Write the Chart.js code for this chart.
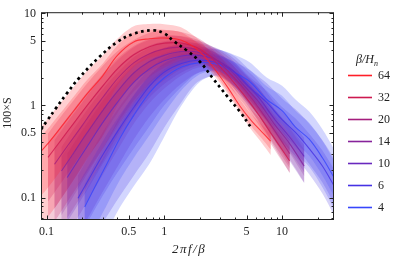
<!DOCTYPE html>
<html>
<head>
<meta charset="utf-8">
<script src="https://cdn.jsdelivr.net/npm/chart.js@4.4.1/dist/chart.umd.min.js"></script>
<style>
  html, body { margin: 0; padding: 0; background: #fff; }
</style>
</head>
<body>
<canvas id="chart" width="397" height="265"></canvas>
<script>
// axis ranges and ticks
const xMin = 0.0898, xMax = 27.6;
const yMin = 0.057, yMax = 10.3;
const xMajor = [0.1, 0.5, 1, 5, 10];
const xMinor = [0.2, 0.3, 0.4, 0.6, 0.7, 0.8, 0.9, 2, 3, 4, 6, 7, 8, 9, 20];
const yMajor = [0.1, 0.5, 1, 5, 10];
const yMinor = [0.06, 0.07, 0.08, 0.09, 0.2, 0.3, 0.4, 0.6, 0.7, 0.8, 0.9, 2, 3, 4, 6, 7, 8, 9];

const labels = ["64", "32", "20", "14", "10", "6", "4"];

// beta/H = 64
const x64 = [0.08, 0.1, 0.13, 0.17, 0.22, 0.3, 0.4, 0.55, 0.75, 1.0, 1.4, 2.0, 2.6, 3.4, 4.4, 5.5, 6.7, 8.0];
const y64 = [0.27, 0.37, 0.56, 0.87, 1.33, 2.1, 3.5, 4.9, 5.3, 5.4, 5.1, 3.85, 2.6, 1.62, 0.98, 0.68, 0.52, 0.41];
const u64 = [0.27, 0.27, 0.27, 0.26, 0.25, 0.22, 0.18, 0.17, 0.16, 0.15, 0.14, 0.12, 0.12, 0.12, 0.12, 0.12, 0.13, 0.14];
const d64 = [0.8, 0.8, 0.78, 0.75, 0.7, 0.65, 0.55, 0.45, 0.35, 0.3, 0.2, 0.1, 0.08, 0.07, 0.07, 0.1, 0.12, 0.15];
// beta/H = 32
const x32 = [0.103, 0.13, 0.17, 0.22, 0.3, 0.4, 0.55, 0.75, 1.0, 1.4, 2.0, 2.7, 3.6, 4.8, 6.3, 8.5, 11.6];
const y32 = [0.273, 0.405, 0.64, 0.99, 1.62, 2.5, 3.55, 4.35, 4.75, 4.75, 4.1, 3.0, 2.0, 1.28, 0.8, 0.45, 0.25];
const u32 = [0.26, 0.26, 0.25, 0.24, 0.22, 0.19, 0.16, 0.15, 0.14, 0.12, 0.11, 0.11, 0.11, 0.12, 0.12, 0.13, 0.14];
const d32 = [0.8, 0.78, 0.75, 0.72, 0.68, 0.6, 0.5, 0.4, 0.32, 0.22, 0.13, 0.1, 0.1, 0.1, 0.11, 0.12, 0.13];
// beta/H = 20
const x20 = [0.117, 0.15, 0.2, 0.25, 0.3, 0.4, 0.55, 0.75, 1.0, 1.4, 2.0, 2.7, 3.6, 4.8, 6.3, 8.5, 11.6];
const y20 = [0.23, 0.36, 0.6, 0.9, 1.22, 1.95, 2.9, 3.65, 4.1, 4.3, 3.95, 3.2, 2.25, 1.5, 0.95, 0.55, 0.3];
const u20 = [0.26, 0.26, 0.25, 0.24, 0.23, 0.2, 0.17, 0.15, 0.14, 0.12, 0.11, 0.11, 0.12, 0.12, 0.13, 0.14, 0.15];
const d20 = [0.8, 0.78, 0.75, 0.72, 0.7, 0.62, 0.52, 0.42, 0.34, 0.24, 0.14, 0.12, 0.12, 0.13, 0.15, 0.18, 0.21];
// beta/H = 14
const x14 = [0.134, 0.17, 0.22, 0.3, 0.4, 0.55, 0.75, 1.0, 1.4, 2.0, 2.7, 3.6, 4.8, 6.3, 8.5, 11.5, 15.4];
const y14 = [0.194, 0.305, 0.5, 0.88, 1.42, 2.25, 3.0, 3.5, 3.85, 3.75, 3.2, 2.45, 1.62, 1.1, 0.64, 0.39, 0.22];
const u14 = [0.26, 0.26, 0.25, 0.23, 0.2, 0.17, 0.15, 0.14, 0.13, 0.12, 0.12, 0.13, 0.14, 0.15, 0.16, 0.17, 0.18];
const d14 = [0.8, 0.78, 0.75, 0.7, 0.64, 0.55, 0.45, 0.36, 0.26, 0.16, 0.13, 0.13, 0.14, 0.15, 0.16, 0.17, 0.18];
// beta/H = 10
const x10 = [0.15, 0.19, 0.24, 0.3, 0.4, 0.55, 0.75, 1.0, 1.4, 2.0, 2.7, 3.6, 4.8, 6.3, 8.5, 11.5, 15.4];
const y10 = [0.165, 0.265, 0.42, 0.65, 1.08, 1.78, 2.5, 3.05, 3.45, 3.5, 3.15, 2.55, 1.76, 1.23, 0.73, 0.46, 0.28];
const u10 = [0.26, 0.26, 0.25, 0.24, 0.21, 0.18, 0.16, 0.14, 0.13, 0.13, 0.13, 0.14, 0.16, 0.17, 0.18, 0.19, 0.2];
const d10 = [0.8, 0.8, 0.78, 0.75, 0.7, 0.62, 0.52, 0.42, 0.3, 0.18, 0.14, 0.15, 0.17, 0.2, 0.23, 0.26, 0.29];
// beta/H = 6
const x6 = [0.185, 0.23, 0.3, 0.4, 0.55, 0.75, 1.0, 1.4, 1.9, 2.7, 3.9, 5.3, 7.4, 10, 13, 17, 22, 28];
const y6 = [0.098, 0.16, 0.29, 0.52, 0.95, 1.62, 2.3, 2.85, 3.1, 2.95, 2.35, 1.58, 1.08, 0.7, 0.51, 0.34, 0.22, 0.13];
const u6 = [0.25, 0.25, 0.25, 0.24, 0.22, 0.19, 0.16, 0.14, 0.14, 0.15, 0.17, 0.19, 0.21, 0.23, 0.25, 0.27, 0.28, 0.3];
const d6 = [0.74, 0.74, 0.74, 0.74, 0.74, 0.72, 0.6, 0.42, 0.24, 0.15, 0.16, 0.18, 0.2, 0.23, 0.26, 0.28, 0.3, 0.32];
// beta/H = 4
const x4 = [0.211, 0.26, 0.33, 0.42, 0.55, 0.75, 1.0, 1.4, 2.0, 2.8, 3.9, 5.3, 7.4, 10, 13, 17, 22, 28];
const y4 = [0.079, 0.133, 0.24, 0.44, 0.78, 1.38, 2.0, 2.62, 2.92, 2.8, 2.3, 1.82, 1.16, 0.88, 0.58, 0.43, 0.27, 0.16];
const u4 = [0.25, 0.25, 0.25, 0.24, 0.22, 0.19, 0.16, 0.14, 0.14, 0.16, 0.19, 0.21, 0.24, 0.27, 0.3, 0.3, 0.31, 0.31];
const d4 = [0.74, 0.74, 0.74, 0.75, 0.77, 0.77, 0.64, 0.42, 0.21, 0.12, 0.15, 0.2, 0.22, 0.25, 0.28, 0.3, 0.32, 0.34];

// dotted black curve
const xDot = [0.0898, 0.1, 0.12, 0.15, 0.19, 0.28, 0.4, 0.55, 0.8, 1.0, 1.2, 1.56, 2.0, 2.6, 3.4, 4.4, 5.56];
const yDot = [0.55, 0.67, 0.93, 1.37, 2.0, 3.35, 4.9, 6.0, 6.55, 6.05, 5.0, 3.94, 3.0, 1.95, 1.27, 0.85, 0.555];

const series = [
  [x64, y64, u64, d64], [x32, y32, u32, d32], [x20, y20, u20, d20], [x14, y14, u14, d14],
  [x10, y10, u10, d10], [x6, y6, u6, d6], [x4, y4, u4, d4]
];
const colors = [
  [255, 30, 40], [205, 25, 80], [165, 30, 125], [135, 35, 155],
  [105, 40, 190], [70, 50, 228], [55, 70, 252]
];
const rgba = (c, a) => `rgba(${c[0]},${c[1]},${c[2]},${a})`;

// band outline: upper edge forward, lower edge back, corners doubled so the ends stay square
function bandShape(xs, ys, up, dn, k) {
  const top = xs.map((x, i) => ({ x, y: ys[i] * Math.pow(10, up[i] * k) }));
  const bot = xs.map((x, i) => ({ x, y: ys[i] / Math.pow(10, dn[i] * k) }));
  const n = xs.length - 1;
  return [top[0], ...top, top[n], bot[n], ...bot.slice().reverse(), bot[0]];
}

const datasets = [];
series.forEach(([xs, ys, up, dn], i) => {
  datasets.push({
    data: bandShape(xs, ys, up, dn, 1), fill: "shape", backgroundColor: rgba(colors[i], 0.22),
    borderColor: "rgba(0,0,0,0)", borderWidth: 0, pointRadius: 0, tension: 0.3, order: 3
  });
  datasets.push({
    data: bandShape(xs, ys, up, dn, 0.6), fill: "shape", backgroundColor: rgba(colors[i], 0.22),
    borderColor: "rgba(0,0,0,0)", borderWidth: 0, pointRadius: 0, tension: 0.3, order: 2
  });
  datasets.push({
    data: xs.map((x, j) => ({ x, y: ys[j] })), fill: false, borderColor: rgba(colors[i], 0.8),
    borderWidth: 1.1, pointRadius: 0, tension: 0.35, order: 1
  });
});
datasets.push({
  data: xDot.map((x, j) => ({ x, y: yDot[j] })), fill: false, borderColor: "#000",
  borderWidth: 2.7, borderDash: [2.7, 3.5], borderCapStyle: "butt", pointRadius: 0, tension: 0.4, order: 0
});

const serif = '"Liberation Serif", "DejaVu Serif", serif';

const framePlugin = {
  id: "frame",
  afterDatasetsDraw(chart) {
    const { ctx, chartArea: a, scales } = chart;
    ctx.save();
    ctx.strokeStyle = "#222";
    ctx.lineWidth = 1;
    ctx.strokeRect(a.left + 0.5, a.top + 0.5, a.right - a.left - 1, a.bottom - a.top - 1);
    ctx.beginPath();
    const xt = (v, len) => {
      const p = Math.round(scales.x.getPixelForValue(v)) + 0.5;
      ctx.moveTo(p, a.bottom); ctx.lineTo(p, a.bottom - len);
      ctx.moveTo(p, a.top); ctx.lineTo(p, a.top + len);
    };
    const yt = (v, len) => {
      const p = Math.round(scales.y.getPixelForValue(v)) + 0.5;
      ctx.moveTo(a.left, p); ctx.lineTo(a.left + len, p);
      ctx.moveTo(a.right, p); ctx.lineTo(a.right - len, p);
    };
    xMajor.forEach(v => xt(v, 4.5));
    xMinor.forEach(v => xt(v, 2.5));
    yMajor.forEach(v => yt(v, 4.5));
    yMinor.forEach(v => yt(v, 2.5));
    ctx.stroke();
    ctx.restore();
  },
  afterDraw(chart) {
    const ctx = chart.ctx;
    ctx.save();
    ctx.fillStyle = "#222";
    // axis titles
    ctx.font = `italic 13px ${serif}`;
    ctx.textAlign = "center";
    ctx.textBaseline = "middle";
    ctx.letterSpacing = "1.5px";
    ctx.fillText("2πf/β", 189, 250);
    ctx.letterSpacing = "0px";
    ctx.save();
    ctx.translate(8, 113);
    ctx.rotate(-Math.PI / 2);
    ctx.font = `12px ${serif}`;
    ctx.fillText("100×S", 0, 0);
    ctx.restore();
    // legend
    ctx.textAlign = "left";
    ctx.textBaseline = "alphabetic";
    ctx.font = `italic 12px ${serif}`;
    ctx.fillText("β/H", 356, 63);
    const w = ctx.measureText("β/H").width;
    ctx.font = `italic 8px ${serif}`;
    ctx.fillText("n", 356 + w, 66);
    ctx.font = `12px ${serif}`;
    ctx.textBaseline = "middle";
    labels.forEach((lab, i) => {
      const y = 75 + 22 * i;
      ctx.strokeStyle = rgba(colors[i], 1);
      ctx.lineWidth = 1.6;
      ctx.beginPath();
      ctx.moveTo(348, y + 0.5);
      ctx.lineTo(372, y + 0.5);
      ctx.stroke();
      ctx.fillText(lab, 378, y + 1);
    });
    ctx.restore();
  }
};

const tickFont = { family: serif, size: 12 };

new Chart(document.getElementById("chart"), {
  type: "line",
  data: { datasets },
  plugins: [framePlugin],
  options: {
    responsive: false,
    animation: false,
    events: [],
    layout: { padding: { left: 0, right: 63, top: 7, bottom: 0 } },
    plugins: { legend: { display: false }, tooltip: { enabled: false } },
    scales: {
      x: {
        type: "logarithmic", min: xMin, max: xMax,
        afterBuildTicks: s => { s.ticks = xMajor.concat(xMinor).sort((a, b) => a - b).map(v => ({ value: v })); },
        afterFit: s => { s.height = 45; },
        grid: { display: false, drawTicks: false }, border: { display: false },
        ticks: {
          autoSkip: false, maxRotation: 0, padding: 5, color: "#222", font: tickFont,
          callback: v => (xMajor.includes(v) ? String(v) : "")
        }
      },
      y: {
        type: "logarithmic", min: yMin, max: yMax,
        afterBuildTicks: s => { s.ticks = yMajor.concat(yMinor).sort((a, b) => a - b).map(v => ({ value: v })); },
        afterFit: s => { s.width = 41; },
        grid: { display: false, drawTicks: false }, border: { display: false },
        ticks: {
          autoSkip: false, padding: 5, color: "#222", font: tickFont,
          callback: v => (yMajor.includes(v) ? String(v) : "")
        }
      }
    }
  }
});
</script>
</body>
</html>
